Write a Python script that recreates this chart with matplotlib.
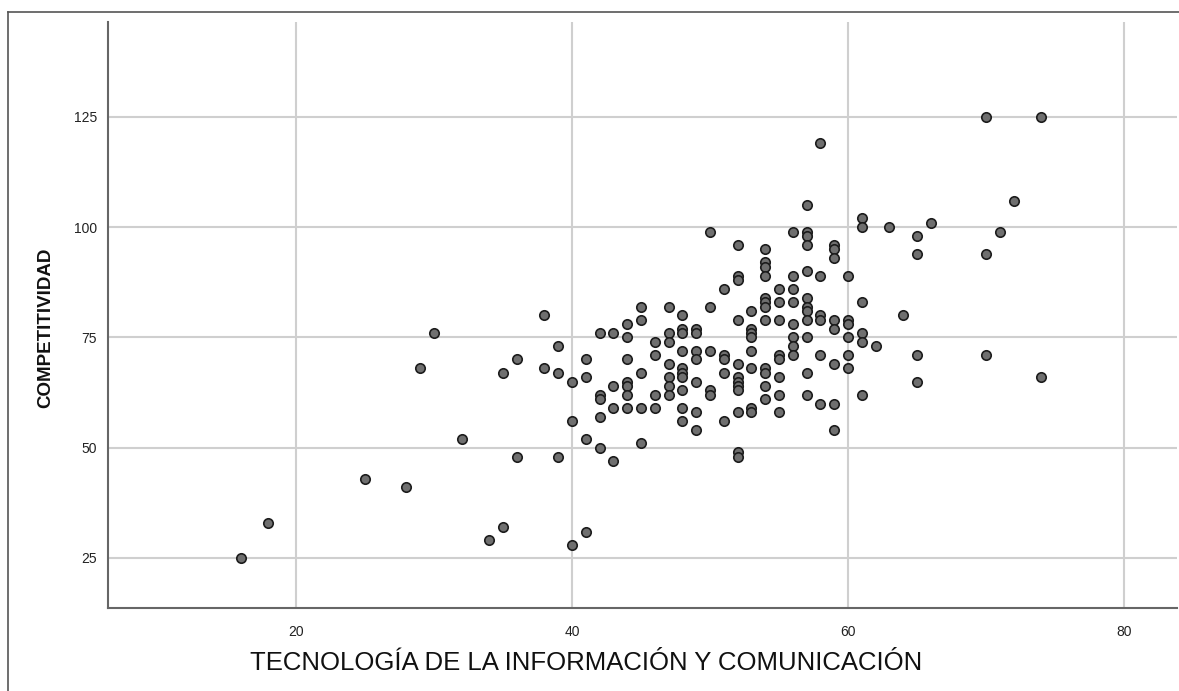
import matplotlib
matplotlib.use("Agg")
import matplotlib.pyplot as plt
from matplotlib.lines import Line2D

plt.rcParams['font.family'] = ['Liberation Sans', 'DejaVu Sans']

# TIC score (x) and competitiveness score (y), one pair per respondent
tic = [16, 18, 25, 28, 29, 30, 32, 34, 35, 35, 36, 36, 38, 38, 39, 39, 39,
       40, 40, 40, 41, 41, 41, 41,
       42, 42, 42, 42, 42,
       43, 43, 43, 43,
       44, 44, 44, 44, 44, 44, 44,
       45, 45, 45, 45, 45,
       46, 46, 46, 46,
       47, 47, 47, 47, 47, 47, 47,
       48, 48, 48, 48, 48, 48, 48, 48, 48, 48,
       49, 49, 49, 49, 49, 49, 49,
       50, 50, 50, 50, 50,
       51, 51, 51, 51, 51,
       52, 52, 52, 52, 52, 52, 52, 52, 52, 52, 52, 52,
       53, 53, 53, 53, 53, 53, 53, 53,
       54, 54, 54, 54, 54, 54, 54, 54, 54, 54, 54, 54,
       55, 55, 55, 55, 55, 55, 55, 55,
       56, 56, 56, 56, 56, 56, 56, 56,
       57, 57, 57, 57, 57, 57, 57, 57, 57, 57, 57, 57,
       58, 58, 58, 58, 58, 58,
       59, 59, 59, 59, 59, 59, 59, 59,
       60, 60, 60, 60, 60, 60,
       61, 61, 61, 61, 61, 61,
       62, 63, 64,
       65, 65, 65, 65,
       66, 70, 70, 70, 71, 72, 74, 74]
comp = [25, 33, 43, 41, 68, 76, 52, 29, 32, 67, 70, 48, 80, 68, 73, 67, 48,
        65, 56, 28, 31, 70, 66, 52,
        76, 62, 61, 57, 50,
        76, 64, 59, 47,
        78, 75, 70, 65, 64, 62, 59,
        82, 79, 67, 59, 51,
        74, 71, 62, 59,
        82, 76, 74, 69, 66, 64, 62,
        80, 77, 76, 72, 68, 67, 66, 63, 59, 56,
        77, 76, 72, 70, 65, 58, 54,
        99, 82, 72, 63, 62,
        86, 71, 70, 67, 56,
        96, 89, 88, 79, 69, 66, 65, 64, 63, 58, 49, 48,
        81, 77, 76, 75, 72, 68, 59, 58,
        95, 92, 91, 89, 84, 83, 82, 79, 68, 67, 64, 61,
        86, 83, 79, 71, 70, 66, 62, 58,
        99, 89, 86, 83, 78, 75, 73, 71,
        105, 99, 98, 96, 90, 84, 82, 81, 79, 75, 67, 62,
        119, 89, 80, 79, 71, 60,
        96, 95, 93, 79, 77, 69, 60, 54,
        89, 79, 78, 75, 71, 68,
        102, 100, 83, 76, 74, 62,
        73, 100, 80,
        98, 94, 71, 65,
        101, 125, 94, 71, 99, 106, 125, 66]

x_ticks = [20, 40, 60, 80]
y_ticks = [25, 50, 75, 100, 125]

W, H = 1179, 691
fig = plt.figure(figsize=(W / 100, H / 100), dpi=100)
ax = fig.add_axes([108 / W, (H - 608) / H, (1177 - 108) / W, (608 - 22) / H])

ax.scatter(tic, comp, s=46, c="#6f6f6f", edgecolors="#1c1c1c",
           linewidths=1.2, zorder=3)

ax.set_xlim(6.38, 83.84)
ax.set_ylim(13.66, 146.5)
ax.set_xticks(x_ticks)
ax.set_yticks(y_ticks)
ax.grid(True, color="#cfcfcf", linewidth=1.5, zorder=0)
ax.set_axisbelow(True)
ax.tick_params(length=0, labelsize=10, colors="#222222")
ax.tick_params(axis="x", pad=12)
ax.tick_params(axis="y", pad=8)

for side in ["top", "right"]:
    ax.spines[side].set_visible(False)
for side in ["left", "bottom"]:
    ax.spines[side].set_color("#666666")
    ax.spines[side].set_linewidth(1.5)

fig.text(586 / W, 1 - 663 / H, "TECNOLOGÍA DE LA INFORMACIÓN Y COMUNICACIÓN",
         ha="center", va="center", fontsize=18.5, color="#111111")
fig.text(46 / W, 1 - 328 / H, "COMPETITIVIDAD", rotation=90,
         ha="center", va="center", fontsize=13.5, fontweight="bold", color="#111111")

# outer frame around the chart
fig.add_artist(Line2D([8 / W, 8 / W], [0, 1 - 12 / H], transform=fig.transFigure,
                      color="#555555", linewidth=1.2))
fig.add_artist(Line2D([8 / W, 1], [1 - 12 / H, 1 - 12 / H], transform=fig.transFigure,
                      color="#555555", linewidth=1.2))

fig.savefig("out.png", dpi=100, facecolor="white")
